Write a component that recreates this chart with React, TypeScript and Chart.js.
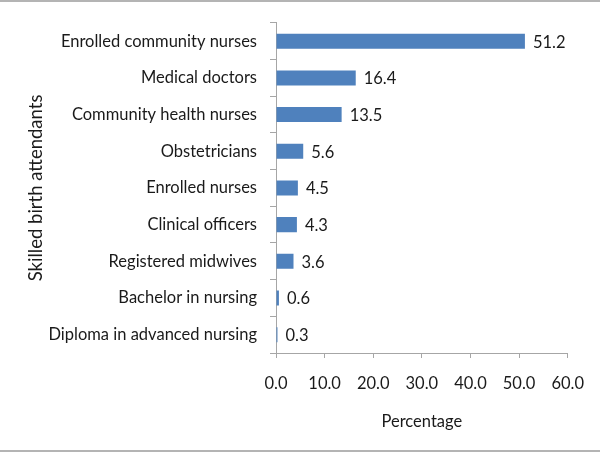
import React, { useEffect, useRef } from "react";
import { Chart, registerables } from "chart.js";

Chart.register(...registerables);

const categories = [
  "Enrolled community nurses",
  "Medical doctors",
  "Community health nurses",
  "Obstetricians",
  "Enrolled nurses",
  "Clinical officers",
  "Registered midwives",
  "Bachelor in nursing",
  "Diploma in advanced nursing",
];
const values = [51.2, 16.4, 13.5, 5.6, 4.5, 4.3, 3.6, 0.6, 0.3];
const xTicks = [0, 10, 20, 30, 40, 50, 60];

const FONT = "Lato, 'Open Sans', sans-serif";

export default function App() {
  const ref = useRef<HTMLCanvasElement | null>(null);
  useEffect(() => {
    if (!ref.current) return;
    const framePlugin = {
      id: "frame",
      afterDraw(chart: any) {
        const ctx = chart.ctx;
        ctx.save();
        ctx.strokeStyle = "#b4b4b4";
        ctx.lineWidth = 2;
        ctx.beginPath();
        ctx.moveTo(0, 1);
        ctx.lineTo(chart.width, 1);
        ctx.moveTo(0, chart.height - 2);
        ctx.lineTo(chart.width, chart.height - 2);
        ctx.stroke();
        ctx.restore();
      },
    };
    const labelPlugin = {
      id: "valueLabels",
      afterDatasetsDraw(chart: any) {
        const ctx = chart.ctx;
        const meta = chart.getDatasetMeta(0);
        ctx.save();
        ctx.font = `16.5px ${FONT}`;
        ctx.fillStyle = "#1a1a1a";
        ctx.textAlign = "left";
        ctx.textBaseline = "middle";
        meta.data.forEach((bar: any, i: number) => {
          ctx.fillText(values[i].toFixed(1), bar.x + 8, bar.y + 1);
        });
        ctx.restore();
      },
    };
    const chart = new Chart(ref.current, {
      type: "bar",
      data: {
        labels: categories,
        datasets: [
          {
            data: values,
            backgroundColor: "#4f81bd",
            borderWidth: 0,
            barPercentage: 0.41,
            categoryPercentage: 1,
          },
        ],
      },
      options: {
        indexAxis: "y",
        animation: false,
        responsive: false,
        maintainAspectRatio: false,
        layout: { padding: { top: 18, right: 30, left: 25, bottom: 21 } },
        plugins: {
          legend: { display: false },
          tooltip: { enabled: false },
        },
        scales: {
          x: {
            min: 0,
            max: 60,
            afterBuildTicks(scale: any) {
              scale.ticks = xTicks.map((v) => ({ value: v }));
            },
            afterFit(scale: any) {
              scale.height = 453 - 21 - 353;
            },
            grid: {
              drawOnChartArea: false,
              drawTicks: true,
              tickLength: 5,
              color: "#a6a6a6",
            },
            border: { color: "#a6a6a6", width: 1 },
            ticks: {
              padding: 16,
              color: "#1a1a1a",
              font: { family: FONT, size: 16.5 },
              callback: (v: any) => Number(v).toFixed(1),
            },
            title: {
              display: true,
              text: "Percentage",
              color: "#1a1a1a",
              font: { family: FONT, size: 16.5 },
              padding: { top: 10, bottom: 0 },
            },
          },
          y: {
            afterFit(scale: any) {
              scale.width = 276 - 25;
            },
            grid: {
              drawOnChartArea: false,
              drawTicks: true,
              tickLength: 6,
              color: "#a6a6a6",
            },
            border: { color: "#a6a6a6", width: 1 },
            ticks: {
              padding: 13,
              color: "#1a1a1a",
              font: { family: FONT, size: 16.5 },
            },
            title: {
              display: true,
              text: "Skilled birth attendants",
              color: "#1a1a1a",
              font: { family: FONT, size: 18.5 },
              padding: { top: 0, bottom: 0 },
            },
          },
        },
      },
      plugins: [labelPlugin, framePlugin],
    });
    return () => chart.destroy();
  }, []);
  return (
    <div style={{ position: "fixed", left: 0, top: 0, width: 600, height: 453, background: "#fff" }}>
      <canvas ref={ref} width={600} height={453} style={{ width: 600, height: 453, display: "block" }} />
    </div>
  );
}
